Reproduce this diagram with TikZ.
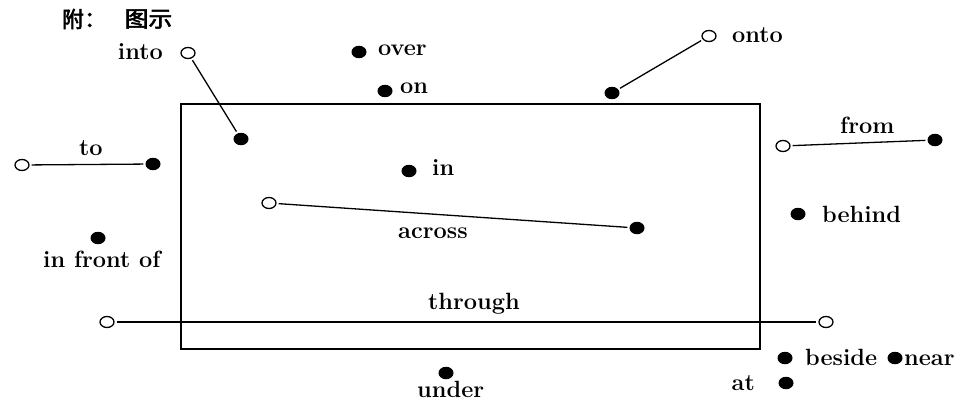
\documentclass[tikz,border=0pt]{standalone}
\usepackage{fontspec}
\usetikzlibrary{shapes.geometric}
\newfontfamily\cjk{Noto Sans CJK SC}[AutoFakeBold=2.5]
\tikzset{
  dotnode/.style={ellipse, fill=black, inner sep=0pt, minimum width=15pt, minimum height=12.5pt},
  opennode/.style={ellipse, draw=black, line width=1.3pt, fill=white, inner sep=0pt, minimum width=14pt, minimum height=11pt},
  conn/.style={line width=1.3pt, shorten <=2pt, shorten >=2pt},
  lbl/.style={inner sep=0pt, font=\fontsize{23.5}{27}\selectfont\bfseries},
  ttl/.style={inner sep=0pt, font=\cjk\bfseries\fontsize{22}{26}\selectfont},
}
\begin{document}
\begin{tikzpicture}[x=1pt,y=-1pt]
\useasboundingbox[fill=white] (0,0) rectangle (963,401);
% title
\node[ttl] (tA) at (73,19) {附};
\node[ttl, anchor=west] (tC) at (84,20) {：};
\node[ttl] (tB) at (148.5,19) {\scalebox{1.08}[1]{图示}};
% box
\draw[line width=1.6pt] (181,104) rectangle (760,349);
% into
\node[opennode] (intoA) at (188,53) {};
\node[dotnode] (intoB) at (241,139) {};
\draw[conn] (intoA) -- (intoB);
\node[lbl, anchor=base east] (intoL) at (163,60) {into};
% over / on
\node[dotnode] (overD) at (359,52) {};
\node[lbl, anchor=base west] (overL) at (378,56) {over};
\node[dotnode] (onD) at (385,91) {};
\node[lbl, anchor=base west] (onL) at (400,94) {on};
% onto
\node[opennode] (ontoA) at (709,36) {};
\node[dotnode] (ontoB) at (612,93) {};
\draw[conn] (ontoA) -- (ontoB);
\node[lbl, anchor=base west] (ontoL) at (732,43) {onto};
% to
\node[opennode] (toA) at (22,165) {};
\node[dotnode] (toB) at (153,164) {};
\draw[conn] (toA) -- (toB);
\node[lbl, anchor=base west] (toL) at (79,155) {to};
% from
\node[opennode] (fromA) at (783,146) {};
\node[dotnode] (fromB) at (935,140) {};
\draw[conn] (fromA) -- (fromB);
\node[lbl, anchor=base west] (fromL) at (840,133) {from};
% in
\node[dotnode] (inD) at (409,171) {};
\node[lbl, anchor=base west] (inL) at (432,175) {in};
% across
\node[opennode] (acrA) at (269,203) {};
\node[dotnode] (acrB) at (637,228) {};
\draw[conn] (acrA) -- (acrB);
\node[lbl, anchor=base west] (acrL) at (398,238) {across};
% behind
\node[dotnode] (behD) at (798,214) {};
\node[lbl, anchor=base west] (behL) at (822,222) {behind};
% in front of
\node[dotnode] (frontD) at (98,238) {};
\node[lbl, anchor=base west] (frontL) at (43,267) {in front of};
% through
\node[opennode] (thrA) at (107,322) {};
\node[opennode] (thrB) at (826,322) {};
\draw[conn] (thrA) -- (thrB);
\node[lbl, anchor=base west] (thrL) at (428,309) {through};
% under
\node[dotnode] (undD) at (446,373) {};
\node[lbl, anchor=base west] (undL) at (417,397) {under};
% beside / near / at
\node[dotnode] (besD) at (785,358) {};
\node[lbl, anchor=base west] (besL) at (805,365) {beside};
\node[dotnode] (nearD) at (895,358) {};
\node[lbl, anchor=base west] (nearL) at (904,365) {near};
\node[dotnode] (atD) at (786,383) {};
\node[lbl, anchor=base east] (atL) at (755,390) {at};
\end{tikzpicture}
\end{document}
